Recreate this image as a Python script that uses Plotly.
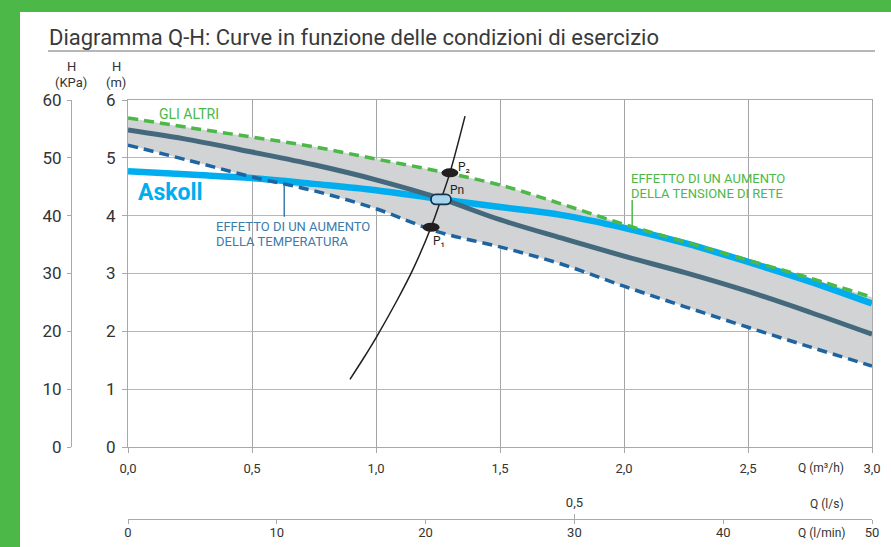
import plotly.graph_objects as go

# ---------------- data ----------------
Q = [0.0, 0.25, 0.5, 0.75, 1.0, 1.25, 1.5, 1.75, 2.0, 2.25, 2.5, 2.75, 3.0]          # m3/h
H_altri = [5.69, 5.52, 5.36, 5.19, 4.98, 4.77, 4.53, 4.20, 3.85, 3.54, 3.23, 2.92, 2.59]
H_askoll = [4.77, 4.71, 4.65, 4.55, 4.44, 4.29, 4.15, 4.01, 3.79, 3.52, 3.20, 2.86, 2.48]
H_nominal = [5.48, 5.31, 5.10, 4.88, 4.62, 4.31, 3.93, 3.61, 3.30, 3.01, 2.69, 2.33, 1.95]
H_temp = [5.22, 4.95, 4.67, 4.43, 4.12, 3.72, 3.46, 3.16, 2.78, 2.42, 2.07, 1.73, 1.40]

sys_Q = [0.895, 0.949, 1.003, 1.083, 1.150, 1.222, 1.262, 1.298, 1.359]
sys_H = [1.17, 1.53, 1.91, 2.52, 3.08, 3.80, 4.28, 4.74, 5.72]

pt_names = ["P₁", "Pn", "P₂"]
pt_Q = [1.222, 1.262, 1.298]
pt_H = [3.80, 4.28, 4.74]

x_ticks = [0, 0.5, 1.0, 1.5, 2.0, 2.5, 3.0]
x_ticktext = ["0,0", "0,5", "1,0", "1,5", "2,0", "2,5", "3,0"]
m_ticks = [0, 1, 2, 3, 4, 5, 6]
kpa_ticks = [0, 10, 20, 30, 40, 50, 60]
lmin_ticks = [0, 10, 20, 30, 40, 50]
ls_ticks = [0.5]
ls_ticktext = ["0,5"]

# ---------------- style ----------------
GREEN = "#4cb848"
CYAN = "#00aeef"
SLATE = "#44697d"
DBLUE = "#1e64a0"
TBLUE = "#3d7bab"
GRID = "#a7a9ac"
TXT = "#333333"
FONT = "Roboto"

fig = go.Figure()

# grey band between the two dashed curves
fig.add_trace(go.Scatter(x=Q, y=H_temp, mode="lines", line=dict(width=0, shape="spline"),
                         hoverinfo="skip", showlegend=False))
fig.add_trace(go.Scatter(x=Q, y=H_altri, mode="lines", line=dict(width=0, shape="spline"),
                         fill="tonexty", fillcolor="#d1d3d4", hoverinfo="skip", showlegend=False))
# Askoll curve
fig.add_trace(go.Scatter(x=Q, y=H_askoll, mode="lines",
                         line=dict(color=CYAN, width=6.5, shape="spline"), showlegend=False))
# nominal curve of the others
fig.add_trace(go.Scatter(x=Q, y=H_nominal, mode="lines",
                         line=dict(color=SLATE, width=5, shape="spline"), showlegend=False))
# temperature effect (dashed blue)
fig.add_trace(go.Scatter(x=Q, y=H_temp, mode="lines",
                         line=dict(color=DBLUE, width=3.5, dash="10px,6px", shape="spline"), showlegend=False))
# voltage effect (dashed green)
fig.add_trace(go.Scatter(x=Q, y=H_altri, mode="lines",
                         line=dict(color=GREEN, width=3.5, dash="10px,6px", shape="spline"), showlegend=False))
# system curve
fig.add_trace(go.Scatter(x=sys_Q, y=sys_H, mode="lines",
                         line=dict(color="#231f20", width=1.5, shape="spline"), showlegend=False))
# dummy traces to host the extra axes
fig.add_trace(go.Scatter(x=[0], y=[0], xaxis="x2", yaxis="y2", mode="markers",
                         marker=dict(opacity=0), hoverinfo="skip", showlegend=False))
fig.add_trace(go.Scatter(x=[0], y=[0], xaxis="x3", yaxis="y", mode="markers",
                         marker=dict(opacity=0), hoverinfo="skip", showlegend=False))

# ---------------- geometry ----------------
# plot area in pixels: x 71..872, y 100..519
PX0, PX1, PY0, PY1 = 71, 872, 100, 519
def px(x):
    return (x - PX0) / (PX1 - PX0)
def py(y):
    return (PY1 - y) / (PY1 - PY0)

x_dom = [px(128), 1]
y_dom = [py(447), 1]

shapes = []
# green frame bands
shapes.append(dict(type="rect", xref="paper", yref="paper", x0=px(0), x1=px(20), y0=py(547), y1=py(0),
                   fillcolor=GREEN, line=dict(width=0), layer="below"))
shapes.append(dict(type="rect", xref="paper", yref="paper", x0=px(0), x1=px(891), y0=py(12), y1=py(0),
                   fillcolor=GREEN, line=dict(width=0), layer="below"))
# title underline
shapes.append(dict(type="line", xref="paper", yref="paper", x0=px(48), x1=px(875), y0=py(51), y1=py(51),
                   line=dict(color="#9d9fa2", width=1.5)))
# pointer lines
shapes.append(dict(type="line", xref="x", yref="y", x0=0.630, x1=0.630, y0=4.53, y1=3.98,
                   line=dict(color=TBLUE, width=1.5)))
shapes.append(dict(type="line", xref="x", yref="y", x0=2.033, x1=2.033, y0=4.27, y1=3.80,
                   line=dict(color=GREEN, width=1.5)))
# operating points
for name, q, h in zip(pt_names, pt_Q, pt_H):
    if name == "Pn":
        shapes.append(dict(type="path", xref="x", yref="y", xsizemode="pixel", ysizemode="pixel",
                           xanchor=q, yanchor=h,
                           path="M -5,5 L 5,5 C 7.8,5 10,2.8 10,0 C 10,-2.8 7.8,-5 5,-5 L -5,-5 "
                                "C -7.8,-5 -10,-2.8 -10,0 C -10,2.8 -7.8,5 -5,5 Z",
                           fillcolor="#a8d5ee", line=dict(color="#17324d", width=1.8)))
    else:
        shapes.append(dict(type="circle", xref="x", yref="y", xsizemode="pixel", ysizemode="pixel",
                           xanchor=q, yanchor=h, x0=-8.5, x1=8.5, y0=-4.5, y1=4.5,
                           fillcolor="#231f20", line=dict(color="#231f20", width=0)))

ann = []
def A(text, x, y, xref="paper", yref="paper", size=13, color=TXT, xanchor="center",
      yanchor="middle", bold=False, family=FONT):
    ann.append(dict(text=("<b>%s</b>" % text) if bold else text, x=x, y=y, xref=xref, yref=yref,
                    showarrow=False, xanchor=xanchor, yanchor=yanchor,
                    font=dict(size=size, color=color, family=family)))

A("Diagramma Q-H: Curve in funzione delle condizioni di esercizio", px(47), py(37), size=22,
  color="#3a3a3a", xanchor="left")
A("H", px(71), py(66), size=13)
A("(KPa)", px(71), py(83), size=13)
A("H", px(116), py(66), size=13)
A("(m)", px(116), py(83), size=13)
A("Q (m³/h)", px(821), py(468), size=12)
A("Q (l/s)", px(827), py(504), size=12)
A("Q (l/min)", px(821), py(533), size=12)

A("GLI ALTRI", 0.246, 5.76, xref="x", yref="y", size=14, color=GREEN)
A("Askoll", 0.032, 4.40, xref="x", yref="y", size=23, color=CYAN, xanchor="left", bold=True)
A("EFFETTO DI UN AUMENTO", 0.345, 3.81, xref="x", yref="y", size=13, color=TBLUE, xanchor="left")
A("DELLA TEMPERATURA", 0.345, 3.55, xref="x", yref="y", size=13, color=TBLUE, xanchor="left")
A("EFFETTO DI UN AUMENTO", 2.022, 4.65, xref="x", yref="y", size=13, color=GREEN, xanchor="left")
A("DELLA TENSIONE DI RETE", 2.022, 4.39, xref="x", yref="y", size=13, color=GREEN, xanchor="left")
A("P₂", 1.355, 4.85, xref="x", yref="y", size=12, color="#231f20")
A("Pn", 1.327, 4.45, xref="x", yref="y", size=12, color="#231f20")
A("P₁", 1.252, 3.56, xref="x", yref="y", size=12, color="#231f20")

axis_common = dict(showline=True, linecolor=GRID, linewidth=1, ticks="outside", tickcolor=GRID,
                   zeroline=False, fixedrange=True, automargin=False)

fig.update_layout(
    width=891, height=547, autosize=False,
    margin=dict(l=PX0, r=891 - PX1, t=PY0, b=547 - PY1, pad=0, autoexpand=False),
    paper_bgcolor="white", plot_bgcolor="white",
    showlegend=False, hovermode=False,
    font=dict(family=FONT, color=TXT),
    xaxis=dict(domain=x_dom, range=[0, 3], tickvals=x_ticks, ticktext=x_ticktext,
               showgrid=True, gridcolor="#a2a4a7", gridwidth=1, mirror=True, ticklen=5,
               tickfont=dict(size=13, color=TXT), ticklabelstandoff=4, anchor="y", **axis_common),
    yaxis=dict(domain=y_dom, range=[0, 6], tickvals=m_ticks, showgrid=True, gridcolor="#b4b6b8",
               gridwidth=1, mirror=True, ticklen=5, tickfont=dict(size=17, color=TXT),
               ticklabelstandoff=3, anchor="x", **axis_common),
    yaxis2=dict(overlaying="y", anchor="free", position=0, side="left", range=[0, 60],
                tickvals=kpa_ticks, showgrid=False, ticklen=4, tickfont=dict(size=17, color=TXT),
                ticklabelstandoff=2, **axis_common),
    xaxis2=dict(overlaying="x", anchor="free", position=0, side="bottom", range=[0, 50],
                tickvals=lmin_ticks, showgrid=False, ticklen=4, tickfont=dict(size=13, color=TXT),
                ticklabelstandoff=-3, **axis_common),
    xaxis3=dict(overlaying="x", anchor="free", position=0, side="top", range=[0, 50 / 60],
                tickvals=ls_ticks, ticktext=ls_ticktext, showgrid=False, showline=False, ticks="outside",
                ticklen=5, tickcolor=GRID, zeroline=False, tickfont=dict(size=13, color=TXT),
                ticklabelstandoff=2, automargin=False),
    shapes=shapes,
    annotations=ann,
)

fig.write_html("out.html", config={"displayModeBar": False},
               post_script="document.body.style.margin='0';document.body.style.padding='0';")
